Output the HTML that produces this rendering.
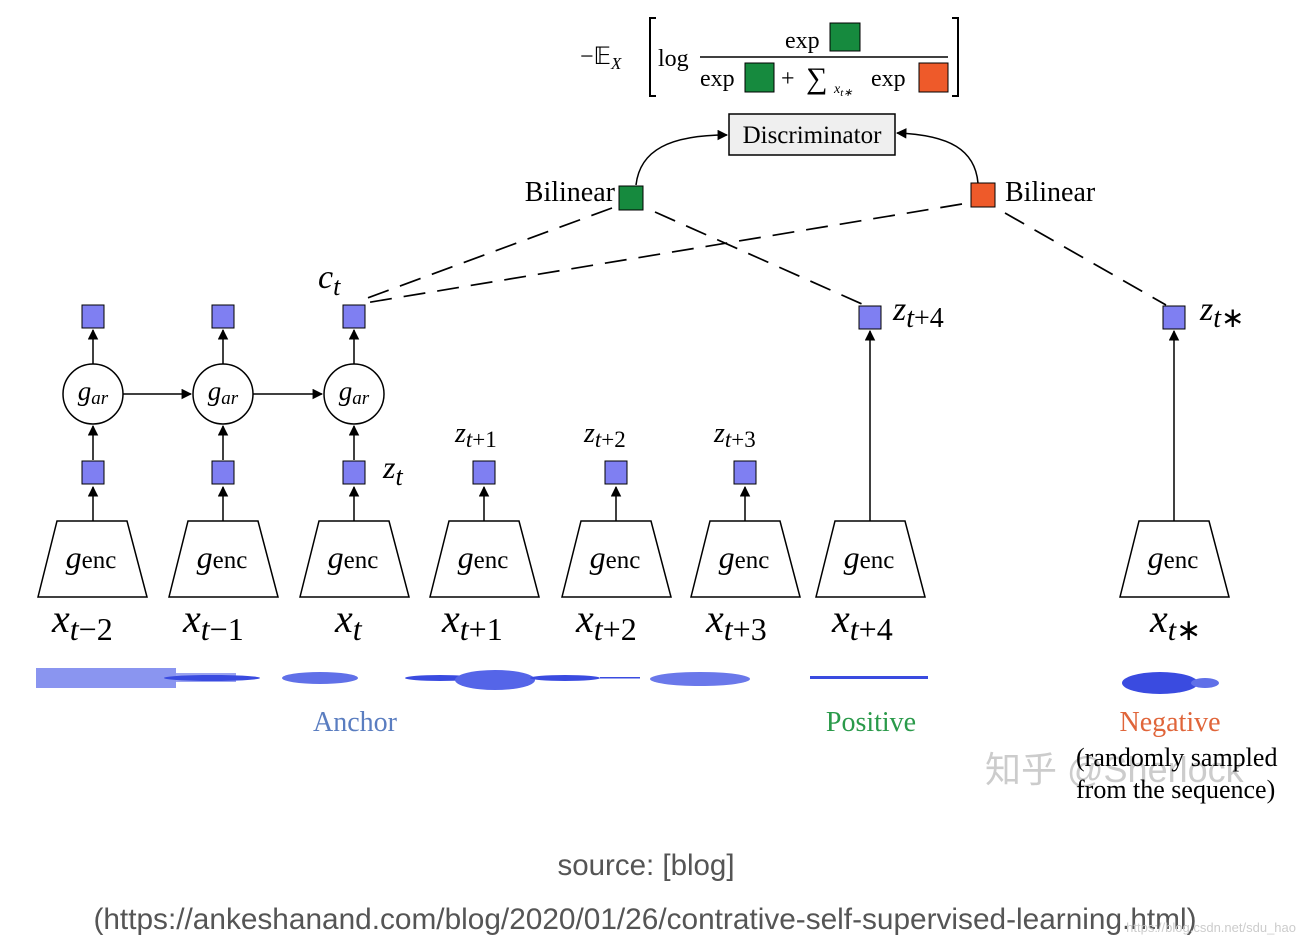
<!DOCTYPE html>
<html><head><meta charset="utf-8"><style>
body{margin:0;background:#fff;width:1304px;height:946px;overflow:hidden}
svg text{font-family:"Liberation Serif",serif}
</style></head><body>
<svg width="1304" height="946" viewBox="0 0 1304 946" xmlns="http://www.w3.org/2000/svg">
<defs>
<marker id="a" viewBox="0 0 10 10" refX="9" refY="5" markerWidth="7" markerHeight="7" orient="auto"><path d="M0,0 L10,5 L0,10 z" fill="#000"/></marker>
</defs>
<!-- formula -->
<text x="580" y="64" font-size="24">−𝔼<tspan font-size="17" font-style="italic" dy="5">X</tspan></text>
<path d="M656,18 h-6 v78 h6" fill="none" stroke="#000" stroke-width="2"/>
<path d="M952,18 h6 v78 h-6" fill="none" stroke="#000" stroke-width="2"/>
<text x="658" y="66" font-size="24">log</text>
<text x="785" y="48" font-size="24">exp</text>
<rect x="830" y="23" width="30" height="28" fill="#168a3e" stroke="#000"/>
<line x1="700" y1="57" x2="948" y2="57" stroke="#000" stroke-width="1.5"/>
<text x="700" y="86" font-size="24">exp</text>
<rect x="745" y="63" width="29" height="29" fill="#168a3e" stroke="#000"/>
<text x="781" y="86" font-size="24">+</text>
<text x="806" y="88" font-size="30">∑</text>
<text x="834" y="93" font-size="14" font-style="italic">x<tspan font-size="11" dy="3">t∗</tspan></text>
<text x="871" y="86" font-size="24">exp</text>
<rect x="919" y="63" width="29" height="29" fill="#ee5a2a" stroke="#000"/>
<!-- discriminator -->
<rect x="729" y="114" width="166" height="41" fill="#efefef" stroke="#000" stroke-width="1.5"/>
<text x="812" y="143" font-size="25" text-anchor="middle">Discriminator</text>
<path d="M636,185 C640,150 670,135 727,135" fill="none" stroke="#000" stroke-width="1.5" marker-end="url(#a)"/>
<path d="M978,183 C975,150 950,135 897,133" fill="none" stroke="#000" stroke-width="1.5" marker-end="url(#a)"/>
<text x="615" y="201" font-size="28" text-anchor="end">Bilinear</text>
<rect x="619" y="186" width="24" height="24" fill="#168a3e" stroke="#000"/>
<rect x="971" y="183" width="24" height="24" fill="#ee5a2a" stroke="#000"/>
<text x="1005" y="201" font-size="28">Bilinear</text>
<!-- dashed -->
<g stroke="#000" stroke-width="1.7" stroke-dasharray="22,12" fill="none">
<line x1="612" y1="208" x2="362" y2="300"/>
<line x1="655" y1="212" x2="862" y2="304"/>
<line x1="962" y1="204" x2="365" y2="303"/>
<line x1="1005" y1="213" x2="1166" y2="305"/>
</g>
<text x="318" y="288" font-size="34" font-style="italic">c<tspan font-size="26" dy="7">t</tspan></text>
<!-- columns -->
<g fill="#fff" stroke="#000" stroke-width="1.5">
<polygon points="57,521 127,521 147,597 38,597"/>
<polygon points="188,521 258,521 278,597 169,597"/>
<polygon points="319,521 389,521 409,597 300,597"/>
<polygon points="449,521 519,521 539,597 430,597"/>
<polygon points="581,521 651,521 671,597 562,597"/>
<polygon points="710,521 780,521 800,597 691,597"/>
<polygon points="835,521 905,521 925,597 816,597"/>
<polygon points="1139,521 1209,521 1229,597 1120,597"/>
<circle cx="93" cy="394" r="30"/><circle cx="223" cy="394" r="30"/><circle cx="354" cy="394" r="30"/>
</g>
<g font-size="32" font-style="italic" text-anchor="middle">
<text x="91" y="568">g<tspan font-style="normal" font-size="25">enc</tspan></text>
<text x="222" y="568">g<tspan font-style="normal" font-size="25">enc</tspan></text>
<text x="353" y="568">g<tspan font-style="normal" font-size="25">enc</tspan></text>
<text x="483" y="568">g<tspan font-style="normal" font-size="25">enc</tspan></text>
<text x="615" y="568">g<tspan font-style="normal" font-size="25">enc</tspan></text>
<text x="744" y="568">g<tspan font-style="normal" font-size="25">enc</tspan></text>
<text x="869" y="568">g<tspan font-style="normal" font-size="25">enc</tspan></text>
<text x="1173" y="568">g<tspan font-style="normal" font-size="25">enc</tspan></text>
<text x="93" y="400" font-size="27">g<tspan font-size="19" dy="4">ar</tspan></text>
<text x="223" y="400" font-size="27">g<tspan font-size="19" dy="4">ar</tspan></text>
<text x="354" y="400" font-size="27">g<tspan font-size="19" dy="4">ar</tspan></text>
</g>
<g font-size="40" font-style="italic">
<text x="52" y="632">x<tspan font-size="32" dy="8">t<tspan font-style="normal">−2</tspan></tspan></text>
<text x="183" y="632">x<tspan font-size="32" dy="8">t<tspan font-style="normal">−1</tspan></tspan></text>
<text x="335" y="632">x<tspan font-size="32" dy="8">t</tspan></text>
<text x="442" y="632">x<tspan font-size="32" dy="8">t<tspan font-style="normal">+1</tspan></tspan></text>
<text x="576" y="632">x<tspan font-size="32" dy="8">t<tspan font-style="normal">+2</tspan></tspan></text>
<text x="706" y="632">x<tspan font-size="32" dy="8">t<tspan font-style="normal">+3</tspan></tspan></text>
<text x="832" y="632">x<tspan font-size="32" dy="8">t<tspan font-style="normal">+4</tspan></tspan></text>
<text x="1150" y="632">x<tspan font-size="30" dy="8">t<tspan font-style="normal">∗</tspan></tspan></text>
</g>
<g font-style="italic">
<text x="383" y="478" font-size="32">z<tspan font-size="26" dy="7">t</tspan></text>
<text x="455" y="442" font-size="28">z<tspan font-size="23" dy="5">t<tspan font-style="normal">+1</tspan></tspan></text>
<text x="584" y="442" font-size="28">z<tspan font-size="23" dy="5">t<tspan font-style="normal">+2</tspan></tspan></text>
<text x="714" y="442" font-size="28">z<tspan font-size="23" dy="5">t<tspan font-style="normal">+3</tspan></tspan></text>
<text x="893" y="320" font-size="34">z<tspan font-size="28" dy="7">t<tspan font-style="normal">+4</tspan></tspan></text>
<text x="1200" y="320" font-size="34">z<tspan font-size="28" dy="7">t<tspan font-style="normal">∗</tspan></tspan></text>
</g>
<!-- arrows -->
<g stroke="#000" stroke-width="1.5" marker-end="url(#a)">
<line x1="93" y1="521" x2="93" y2="487"/><line x1="223" y1="521" x2="223" y2="487"/><line x1="354" y1="521" x2="354" y2="487"/>
<line x1="484" y1="521" x2="484" y2="487"/><line x1="616" y1="521" x2="616" y2="487"/><line x1="745" y1="521" x2="745" y2="487"/>
<line x1="93" y1="460" x2="93" y2="426"/><line x1="223" y1="460" x2="223" y2="426"/><line x1="354" y1="460" x2="354" y2="426"/>
<line x1="93" y1="364" x2="93" y2="330"/><line x1="223" y1="364" x2="223" y2="330"/><line x1="354" y1="364" x2="354" y2="330"/>
<line x1="123" y1="394" x2="191" y2="394"/><line x1="253" y1="394" x2="322" y2="394"/>
<line x1="870" y1="521" x2="870" y2="331"/><line x1="1174" y1="521" x2="1174" y2="331"/>
</g>
<g fill="#7f7ff2" stroke="#000" stroke-width="1">
<rect x="82" y="305" width="22" height="23"/><rect x="212" y="305" width="22" height="23"/><rect x="343" y="305" width="22" height="23"/>
<rect x="82" y="461" width="22" height="23"/><rect x="212" y="461" width="22" height="23"/><rect x="343" y="461" width="22" height="23"/>
<rect x="473" y="461" width="22" height="23"/><rect x="605" y="461" width="22" height="23"/><rect x="734" y="461" width="22" height="23"/>
<rect x="859" y="306" width="22" height="23"/><rect x="1163" y="306" width="22" height="23"/>
</g>
<!-- waveforms -->
<g fill="#3a4be0">
<rect x="36" y="668" width="140" height="20" fill="#8a95f0"/>
<rect x="176" y="673" width="60" height="9" fill="#9aa3f0"/>
<ellipse cx="212" cy="678" rx="48" ry="3"/>
<ellipse cx="320" cy="678" rx="38" ry="6" fill="#6070e8"/>
<ellipse cx="440" cy="678" rx="35" ry="3"/>
<ellipse cx="495" cy="680" rx="40" ry="10" fill="#5565e8"/>
<ellipse cx="565" cy="678" rx="35" ry="3"/>
<ellipse cx="700" cy="679" rx="50" ry="7" fill="#6a78ea"/>
<rect x="810" y="676" width="118" height="3"/>
<rect x="600" y="677" width="40" height="1.5"/>
<ellipse cx="1160" cy="683" rx="38" ry="11"/>
<ellipse cx="1205" cy="683" rx="14" ry="5" fill="#6070e8"/>
</g>
<text x="355" y="731" font-size="28" text-anchor="middle" fill="#5a7dc0">Anchor</text>
<text x="871" y="731" font-size="28" text-anchor="middle" fill="#2a9a4a">Positive</text>
<text x="1170" y="731" font-size="28" text-anchor="middle" fill="#e0653a">Negative</text>
<text x="985" y="782" font-size="36" fill="#ccc" style="font-family:'Liberation Sans','Noto Sans CJK SC',sans-serif">知乎 @Sherlock</text>
<text x="1076" y="766" font-size="26">(randomly sampled</text>
<text x="1076" y="798" font-size="26">from the sequence)</text>
<text x="646" y="875" font-size="29.5" fill="#555" text-anchor="middle" style="font-family:'Liberation Sans',sans-serif">source: [blog]</text>
<text x="645" y="929" font-size="29.8" fill="#555" text-anchor="middle" style="font-family:'Liberation Sans',sans-serif">(https://ankeshanand.com/blog/2020/01/26/contrative-self-supervised-learning.html)</text>
<text x="1296" y="932" font-size="13" fill="#ccc" text-anchor="end" style="font-family:'Liberation Sans',sans-serif">https://blog.csdn.net/sdu_hao</text>
</svg>
</body></html>
